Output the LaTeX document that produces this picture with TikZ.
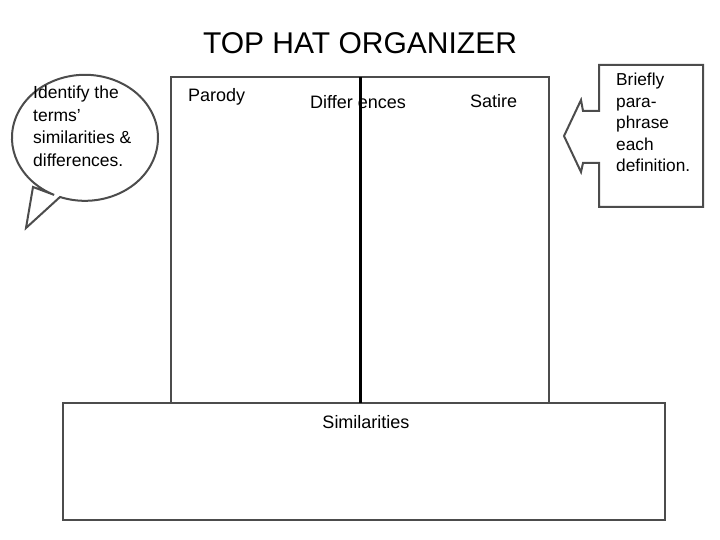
\documentclass[tikz,border=0pt]{standalone}
\usepackage{fontspec}
\setmainfont{Liberation Sans}
\begin{document}
\begin{tikzpicture}[x=1pt,y=-1pt,
  frame/.style={draw=black!70,line width=2.5pt},
  lab/.style={font=\fontsize{18}{21}\selectfont,inner sep=0pt}]
\useasboundingbox (0,0) rectangle (720,540);
\node[font=\fontsize{30}{33}\selectfont] (title) at (360,43) {TOP HAT ORGANIZER};
% crown and brim
\draw[frame] (171,77) rectangle (549,403);
\draw[frame] (63,403) rectangle (665,520);
\coordinate (vt) at (360,77); \coordinate (vb) at (360,403);
\draw[black,line width=3pt] (vt) -- (vb);
\node[lab,anchor=west] (parody) at (188,97) {Parody};
\node[lab,anchor=west] (diff) at (310,102) {Differ ences};
\node[lab,anchor=west] (satire) at (470,101) {Satire};
\node[lab] (sim) at (366,422) {Similarities};
% speech bubble
\draw[frame,line width=2pt,fill=white] (33,187) -- (26,228) -- (60,197)
  arc[start angle=-110,end angle=245,x radius=73,y radius=-63] -- cycle;
\node[lab,align=left,anchor=north west,font=\fontsize{17.5}{22.5}\selectfont] (bub) at (33,86) {Identify the\\terms'\\similarities \&\\differences.};
% callout
\draw[frame,line width=2pt] (599,111) -- (599,65) -- (703,65) -- (703,207) -- (599,207) -- (599,163)
  -- (583,163) -- (581,172) -- (564,136) -- (581,100) -- (583,111) -- cycle;
\node[lab,align=left,anchor=north west,font=\fontsize{17.3}{21.5}\selectfont] (call) at (616,73) {Briefly\\para-\\phrase\\each\\definition.};
\end{tikzpicture}
\end{document}
